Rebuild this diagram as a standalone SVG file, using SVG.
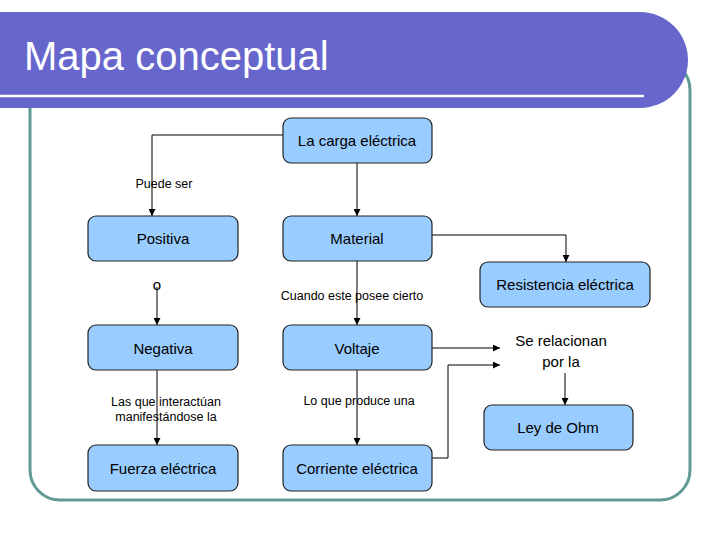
<svg xmlns="http://www.w3.org/2000/svg" width="728" height="546" viewBox="0 0 728 546">
<style>
.n{fill:#99ccff;stroke:#222;stroke-width:1.2}
.t{font-family:"Liberation Sans",Arial,sans-serif;font-size:15px;text-anchor:middle;fill:#000}
.l{font-family:"Liberation Sans",Arial,sans-serif;font-size:12.5px;text-anchor:middle;fill:#000}
.c{fill:none;stroke:#000;stroke-width:1;marker-end:url(#a)}
</style>
<defs><marker id="a" viewBox="0 0 8 8" refX="8" refY="4" markerWidth="7" markerHeight="7" orient="auto"><path d="M0,0L8,4L0,8z" fill="#000"/></marker></defs>
<rect width="728" height="546" fill="#fff"/>
<rect x="30" y="60" width="660" height="440" rx="30" fill="none" stroke="#5f9a94" stroke-width="3"/>
<path d="M0,12H640A48,48 0 0 1 640,108H0Z" fill="#6666cc"/>
<line x1="0" y1="96" x2="644" y2="96" stroke="#fff" stroke-width="2.5"/>
<text x="24" y="70" font-family="Liberation Sans,Arial,sans-serif" font-size="40" fill="#fff">Mapa conceptual</text>
<g id="connectors">
<path class="c" d="M283,135H152V216"/>
<path class="c" d="M357,163V216"/>
<path class="c" d="M432,235H566V262"/>
<path class="c" d="M157,287V325"/>
<path class="c" d="M157,370V445"/>
<path class="c" d="M357,261V325"/>
<path class="c" d="M357,370V445"/>
<path class="c" d="M432,348H500"/>
<path class="c" d="M432,458H448V365H500"/>
<path class="c" d="M565,373V405"/>
<text class="l" x="164" y="188">Puede ser</text>
<text class="t" x="157" y="290">o</text>
<text class="l" x="352" y="300">Cuando este posee cierto</text>
<text class="l" x="166" y="406">Las que interactúan</text>
<text class="l" x="166" y="421">manifestándose la</text>
<text class="l" x="359" y="405">Lo que produce una</text>
<text class="t" x="561" y="346">Se relacionan</text>
<text class="t" x="561" y="367">por la</text>
</g>
<g id="carga"><rect class="n" x="283" y="118" width="149" height="45" rx="8"/><text class="t" x="357" y="146">La carga eléctrica</text></g>
<g id="positiva"><rect class="n" x="88" y="216" width="150" height="45" rx="8"/><text class="t" x="163" y="244">Positiva</text></g>
<g id="material"><rect class="n" x="283" y="216" width="149" height="45" rx="8"/><text class="t" x="357" y="244">Material</text></g>
<g id="resistencia"><rect class="n" x="480" y="262" width="170" height="45" rx="8"/><text class="t" x="565" y="290">Resistencia eléctrica</text></g>
<g id="negativa"><rect class="n" x="88" y="325" width="150" height="45" rx="8"/><text class="t" x="163" y="354">Negativa</text></g>
<g id="voltaje"><rect class="n" x="283" y="325" width="149" height="45" rx="8"/><text class="t" x="357" y="354">Voltaje</text></g>
<g id="ohm"><rect class="n" x="484" y="405" width="149" height="45" rx="8"/><text class="t" x="558" y="433">Ley de Ohm</text></g>
<g id="fuerza"><rect class="n" x="88" y="445" width="150" height="46" rx="8"/><text class="t" x="163" y="474">Fuerza eléctrica</text></g>
<g id="corriente"><rect class="n" x="283" y="445" width="149" height="46" rx="8"/><text class="t" x="357" y="474">Corriente eléctrica</text></g>
</svg>
